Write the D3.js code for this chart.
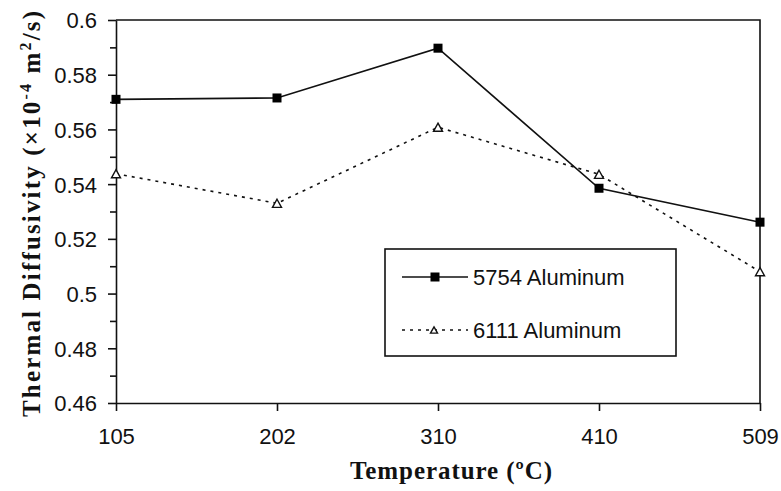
<!DOCTYPE html>
<html>
<head>
<meta charset="utf-8">
<script src="https://cdn.jsdelivr.net/npm/d3@7"></script>
<style>
  html, body { margin: 0; padding: 0; background: #fff; }
  svg { display: block; }
</style>
</head>
<body>
<svg id="chart" width="781" height="491"></svg>
<script>
// Measurement temperatures (°C) used as categories on the x axis
const temperatures = ["105", "202", "310", "410", "509"];
// Thermal diffusivity (×10^-4 m²/s) for each alloy
const alloy5754 = [0.571, 0.5715, 0.5897, 0.5385, 0.5261];
const alloy6111 = [0.5438, 0.533, 0.5608, 0.5436, 0.508];
const seriesNames = ["5754 Aluminum", "6111 Aluminum"];
// Axis ticks
const yMajorTicks = [0.46, 0.48, 0.5, 0.52, 0.54, 0.56, 0.58, 0.6];
const yMinorTicks = [0.47, 0.49, 0.51, 0.53, 0.55, 0.57, 0.59];
const yTickLabels = ["0.46", "0.48", "0.5", "0.52", "0.54", "0.56", "0.58", "0.6"];

const svg = d3.select("#chart");
const plotLeft = 116, plotRight = 760, plotTop = 20, plotBottom = 403;
const ink = "#111";

const x = d3.scalePoint().domain(temperatures).range([plotLeft, plotRight]).padding(0);
const y = d3.scaleLinear().domain([0.46, 0.6]).range([plotBottom, plotTop]);

// Plot frame (top and right edges)
svg.append("path")
  .attr("d", `M${plotLeft},${plotTop}H${plotRight}V${plotBottom}`)
  .attr("fill", "none").attr("stroke", ink).attr("stroke-width", 1.6);

// Y axis: major ticks with labels, minor ticks without
const yAxis = svg.append("g").attr("transform", `translate(${plotLeft},0)`)
  .call(d3.axisLeft(y).tickValues(yMajorTicks).tickSize(8).tickSizeOuter(0)
    .tickFormat((d, i) => yTickLabels[i]));
svg.append("g").attr("transform", `translate(${plotLeft},0)`)
  .call(d3.axisLeft(y).tickValues(yMinorTicks).tickSize(6).tickSizeOuter(0).tickFormat(""))
  .select(".domain").remove();

// X axis
const xAxis = svg.append("g").attr("transform", `translate(0,${plotBottom})`)
  .call(d3.axisBottom(x).tickSize(8).tickSizeOuter(0));

svg.selectAll(".domain, .tick line").attr("stroke", ink).attr("stroke-width", 1.6);
yAxis.selectAll(".tick text")
  .attr("x", -19).attr("dy", "0.36em")
  .style("font-family", "'Liberation Sans', Arial, sans-serif")
  .style("font-size", "22px").attr("fill", ink);
xAxis.selectAll(".tick text")
  .attr("y", 25).attr("dy", "0.72em")
  .style("font-family", "'Liberation Sans', Arial, sans-serif")
  .style("font-size", "22px").attr("fill", ink);

// Series lines
const line = d3.line().x((d, i) => x(temperatures[i])).y(d => y(d));

svg.append("path").datum(alloy5754)
  .attr("d", line).attr("fill", "none")
  .attr("stroke", ink).attr("stroke-width", 1.6);

svg.append("path").datum(alloy6111)
  .attr("d", line).attr("fill", "none")
  .attr("stroke", ink).attr("stroke-width", 1.6)
  .attr("stroke-dasharray", "3,5");

// Markers
const sq = 9;
function square(g, cx, cy, s) {
  g.append("rect").attr("x", cx - s / 2).attr("y", cy - s / 2)
    .attr("width", s).attr("height", s).attr("fill", "#000");
}
function triangle(g, cx, cy, s) {
  const h = s * 0.9;
  g.append("path")
    .attr("d", `M${cx},${cy - h / 2}L${cx + s / 2},${cy + h / 2}L${cx - s / 2},${cy + h / 2}Z`)
    .attr("fill", "#fff").attr("stroke", ink).attr("stroke-width", 1.4);
}
const markers = svg.append("g");
alloy5754.forEach((v, i) => square(markers, x(temperatures[i]), y(v), sq));
alloy6111.forEach((v, i) => triangle(markers, x(temperatures[i]), y(v), 9));

// Legend
const lg = svg.append("g");
lg.append("rect").attr("x", 385).attr("y", 249).attr("width", 291).attr("height", 107)
  .attr("fill", "#fff").attr("stroke", ink).attr("stroke-width", 1.6);
const legendRows = [277, 330];
lg.append("line").attr("x1", 402).attr("x2", 468).attr("y1", legendRows[0]).attr("y2", legendRows[0])
  .attr("stroke", ink).attr("stroke-width", 1.6);
square(lg, 435, legendRows[0], sq);
lg.append("line").attr("x1", 402).attr("x2", 468).attr("y1", legendRows[1]).attr("y2", legendRows[1])
  .attr("stroke", ink).attr("stroke-width", 1.6).attr("stroke-dasharray", "3,5");
triangle(lg, 434, legendRows[1], 7);
seriesNames.forEach((name, i) => {
  lg.append("text").attr("x", 473).attr("y", legendRows[i]).attr("dy", "0.36em")
    .style("font-family", "'Liberation Sans', Arial, sans-serif")
    .style("font-size", "22px").attr("fill", ink).text(name);
});

// Axis titles
svg.append("text")
  .attr("x", 451).attr("y", 479).attr("text-anchor", "middle")
  .style("font-family", "'Liberation Serif', 'Times New Roman', serif")
  .style("font-size", "25px").style("font-weight", "bold").attr("fill", ink)
  .attr("textLength", 202).attr("lengthAdjust", "spacing")
  .text("Temperature (ºC)");

const yTitle = svg.append("text")
  .attr("transform", "translate(40,214) rotate(-90)")
  .attr("text-anchor", "middle")
  .style("font-family", "'Liberation Serif', 'Times New Roman', serif")
  .style("font-size", "25px").style("font-weight", "bold").attr("fill", ink)
  .attr("textLength", 406).attr("lengthAdjust", "spacing");
yTitle.append("tspan").text("Thermal Diffusivity (×10");
yTitle.append("tspan").attr("dy", -9).style("font-size", "16px").text("-4");
yTitle.append("tspan").attr("dy", 9).text(" m");
yTitle.append("tspan").attr("dy", -9).style("font-size", "16px").text("2");
yTitle.append("tspan").attr("dy", 9).text("/s)");
</script>
</body>
</html>
